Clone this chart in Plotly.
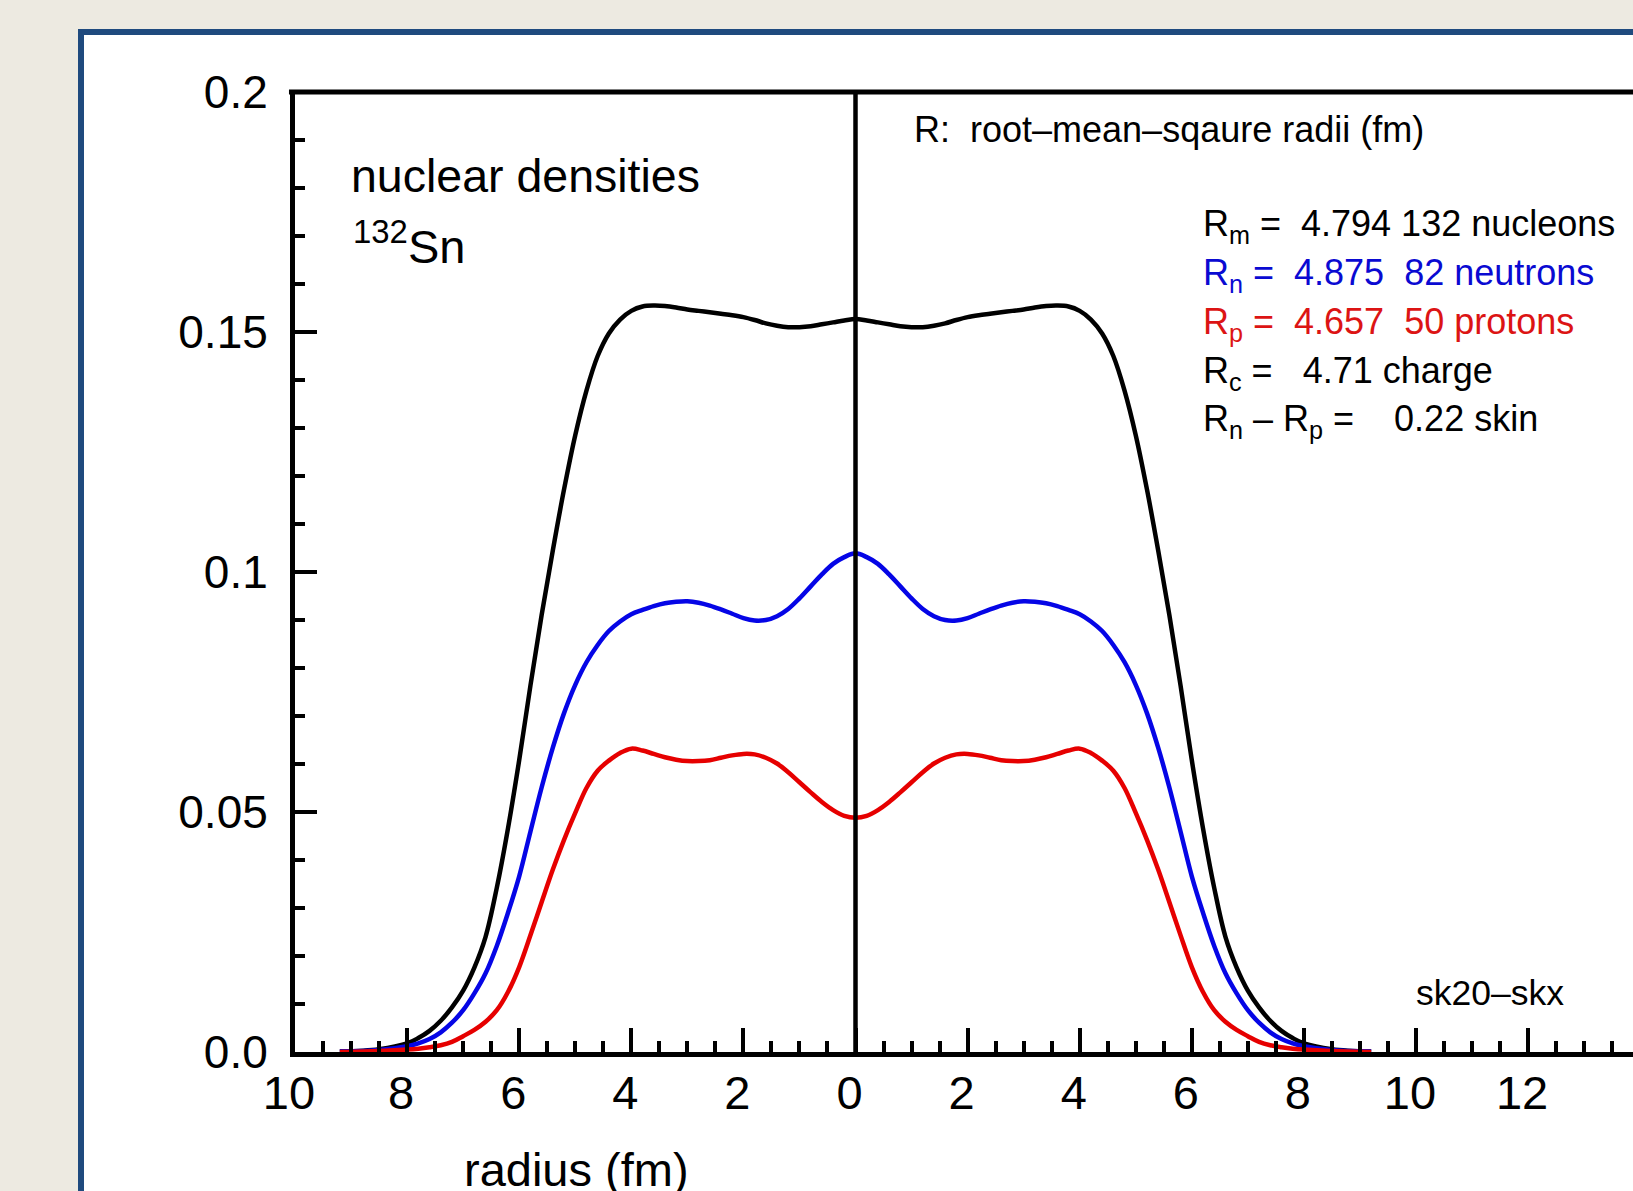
import plotly.graph_objects as go

# ---- data (radius >= 0, the plotted profile is mirrored) ----
r_fm = [0.0, 0.2, 0.4, 0.6, 0.8, 1.0, 1.2, 1.4, 1.6, 1.8, 2.0, 2.2, 2.4, 2.6, 2.8,
        3.0, 3.2, 3.4, 3.6, 3.8, 4.0, 4.2, 4.4, 4.6, 4.8, 5.0, 5.2, 5.4, 5.6, 5.8,
        6.0, 6.2, 6.4, 6.6, 6.8, 7.0, 7.2, 7.4, 7.6, 7.8, 8.0, 8.5, 9.2]
rho_total = [0.1527, 0.1524, 0.1520, 0.1516, 0.1512, 0.1510, 0.1510, 0.1513, 0.1518,
             0.1525, 0.1531, 0.1535, 0.1538, 0.1541, 0.1544, 0.1547, 0.1551, 0.1554,
             0.1555, 0.1553, 0.1544, 0.1526, 0.1497, 0.1450, 0.1378, 0.1285, 0.1172,
             0.1045, 0.0910, 0.0763, 0.0608, 0.0466, 0.0342, 0.0240, 0.0176, 0.0128,
             0.0093, 0.0065, 0.0044, 0.0029, 0.0018, 0.0006, 0.0001]
rho_neutron = [0.1039, 0.1031, 0.1017, 0.0995, 0.0970, 0.0945, 0.0923, 0.0908, 0.0900,
               0.0899, 0.0904, 0.0913, 0.0922, 0.0930, 0.0936, 0.0939, 0.0938, 0.0935,
               0.0929, 0.0921, 0.0912, 0.0897, 0.0877, 0.0848, 0.0812, 0.0765, 0.0706,
               0.0634, 0.0551, 0.0459, 0.0366, 0.0290, 0.0221, 0.0164, 0.0122, 0.0087,
               0.0061, 0.0041, 0.0027, 0.0018, 0.0012, 0.0004, 0.0001]
rho_proton = [0.0488, 0.0492, 0.0504, 0.0521, 0.0541, 0.0562, 0.0583, 0.0601, 0.0613,
              0.0620, 0.0621, 0.0618, 0.0613, 0.0608, 0.0606, 0.0606, 0.0609, 0.0614,
              0.0621, 0.0628, 0.0632, 0.0623, 0.0607, 0.0586, 0.0550, 0.0498, 0.0442,
              0.0380, 0.0312, 0.0243, 0.0177, 0.0125, 0.0087, 0.0063, 0.0046, 0.0033,
              0.0021, 0.0014, 0.0010, 0.0007, 0.0005, 0.0002, 0.0000]

x_tickvals = [-10, -8, -6, -4, -2, 0, 2, 4, 6, 8, 10, 12]
x_ticktext = ["10", "8", "6", "4", "2", "0", "2", "4", "6", "8", "10", "12"]
y_tickvals = [0, 0.05, 0.1, 0.15, 0.2]
y_ticktext = ["0.0", "0.05", "0.1", "0.15", "0.2"]

radii_lines = [
    ("R<sub>m</sub> =\u00a0 4.794 132 nucleons", "black"),
    ("R<sub>n</sub> =\u00a0 4.875 \u00a082 neutrons", "#0a0ad2"),
    ("R<sub>p</sub> =\u00a0 4.657 \u00a050 protons", "#dc1414"),
    ("R<sub>c</sub> = \u00a0 4.71 charge", "black"),
    ("R<sub>n</sub> \u2013 R<sub>p</sub> = \u00a0 \u00a00.22 skin", "black"),
]


def mirror(r, v):
    xs = [-a for a in reversed(r)] + list(r[1:])
    ys = list(reversed(v)) + list(v[1:])
    return xs, ys


FONT = "Liberation Sans, Arial, sans-serif"
fig = go.Figure()
for vals, col in [(rho_total, "black"), (rho_neutron, "#0505e6"), (rho_proton, "#e60000")]:
    xs, ys = mirror(r_fm, vals)
    fig.add_trace(go.Scatter(x=xs, y=ys, mode="lines",
                             line=dict(color=col, width=4.5, shape="spline", smoothing=1.0),
                             showlegend=False, hoverinfo="skip"))

L, T, B = 295, 92, 139
W, H = 1633, 1191
pw = W - L
ph = H - T - B
XMAX = -10 + pw / 56.05

shapes = [
    dict(type="rect", xref="paper", yref="paper",
         x0=(81 - L) / pw, x1=1.02, y0=-0.3, y1=(H - B - 32) / ph,
         line=dict(color="#1f4a7e", width=6), fillcolor="white", layer="below"),
    dict(type="line", xref="x", yref="y", x0=0, x1=0, y0=0, y1=0.2,
         line=dict(color="black", width=4.5)),
    dict(type="line", xref="paper", yref="paper", x0=-0.0045, x1=1.01, y0=1.0, y1=1.0,
         line=dict(color="black", width=5)),
]

ann = [
    dict(text="nuclear densities", x=-9.03, y=0.1826, xanchor="left", yanchor="middle",
         font=dict(size=46.5, color="black", family=FONT)),
    dict(text="<sup>132</sup>Sn", x=-9.0, y=0.1685, xanchor="left", yanchor="middle",
         font=dict(size=47, color="black", family=FONT)),
    dict(text="R:\u00a0 root\u2013mean\u2013sqaure radii (fm)", x=1.0, y=0.1921,
         xanchor="left", yanchor="middle", font=dict(size=36, color="black", family=FONT)),
    dict(text="sk20\u2013skx", x=9.96, y=0.0123, xanchor="left", yanchor="middle",
         font=dict(size=35.5, color="black", family=FONT)),
    dict(text="radius (fm)", x=-4.98, xref="x", y=-0.1222, yref="paper",
         xanchor="center", yanchor="middle", font=dict(size=47, color="black", family=FONT)),
]
ys_block = [0.17203, 0.16186, 0.15172, 0.14153, 0.13153]
for (txt, col), yy in zip(radii_lines, ys_block):
    ann.append(dict(text=txt, x=6.17, y=yy, xanchor="left", yanchor="middle",
                    font=dict(size=36, color=col, family=FONT)))
for a in ann:
    a.setdefault("xref", "x")
    a.setdefault("yref", "y")
    a["showarrow"] = False

fig.update_layout(
    width=W, height=H,
    margin=dict(l=L, r=0, t=T, b=B, autoexpand=False),
    paper_bgcolor="#edeae1", plot_bgcolor="white",
    font=dict(family=FONT, color="black"),
    shapes=shapes, annotations=ann,
    xaxis=dict(range=[-10, XMAX], tickmode="array", tickvals=x_tickvals, ticktext=x_ticktext,
               ticks="inside", ticklen=24, tickwidth=3.5, tickcolor="black",
               showline=True, linewidth=5, linecolor="black", mirror=False,
               showgrid=False, zeroline=False, tickfont=dict(size=47, family=FONT),
               ticklabelstandoff=-4, ticklabelshift=-6,
               minor=dict(tickmode="linear", tick0=0, dtick=0.5, ticks="inside", ticklen=11,
                          tickwidth=3.5, tickcolor="black", showgrid=False)),
    yaxis=dict(range=[0, 0.2], tickmode="array", tickvals=y_tickvals, ticktext=y_ticktext,
               ticks="inside", ticklen=22, tickwidth=3.5, tickcolor="black",
               showline=True, linewidth=5, linecolor="black", mirror=False,
               showgrid=False, zeroline=False, tickfont=dict(size=46, family=FONT),
               ticklabelstandoff=13,
               minor=dict(tickmode="linear", tick0=0, dtick=0.01, ticks="inside", ticklen=10,
                          tickwidth=3.5, tickcolor="black", showgrid=False)),
)

fig.write_html(
    "out.html",
    config={"displayModeBar": False},
    post_script="document.body.style.margin='0';document.body.style.background='#edeae1';",
)
